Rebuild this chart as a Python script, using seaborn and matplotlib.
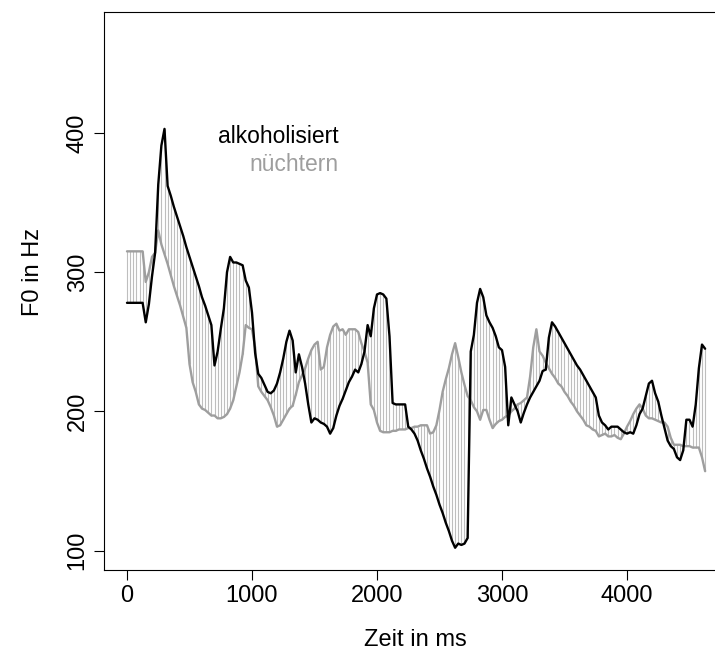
import numpy as np
import pandas as pd
import matplotlib
matplotlib.use("Agg")
import matplotlib.pyplot as plt
import seaborn as sns

# Zeitachse in ms (Abtastung alle 25 ms)
zeit_ms = np.arange(0, 4626, 25)

# F0-Verlauf (Hz), alkoholisiert
f0_alkoholisiert = [
    278, 278, 278, 278, 278, 278, 264, 277, 297, 314,
    363, 391, 403, 362, 355, 347, 340, 333, 326, 318,
    311, 304, 297, 290, 282, 276, 269, 262, 233, 243,
    259, 274, 300, 311, 307, 307, 306, 305, 294, 289,
    271, 242, 227, 224, 219, 214, 213, 215, 220, 228,
    238, 250, 258, 251, 228, 241, 232, 220, 205, 192,
    195, 194, 192, 191, 189, 184, 188, 197, 204, 209,
    215, 221, 225, 230, 228, 234, 243, 262, 254, 274,
    284, 285, 284, 281, 254, 206, 205, 205, 205, 205,
    189, 187, 184, 179, 172, 166, 159, 153, 146, 140,
    133, 127, 120, 114, 107, 102, 105, 104, 105, 109,
    243, 255, 278, 288, 282, 269, 264, 260, 254, 246,
    244, 232, 190, 210, 205, 200, 192, 199, 205, 210,
    214, 218, 222, 229, 230, 253, 264, 261, 257, 253,
    249, 245, 241, 237, 233, 230, 226, 222, 218, 214,
    210, 197, 192, 190, 187, 189, 189, 189, 187, 185,
    184, 185, 184, 190, 198, 202, 211, 220, 222, 213,
    207, 197, 188, 179, 175, 173, 167, 165, 172, 194,
    194, 189, 205, 231, 248, 245,
]

# F0-Verlauf (Hz), nüchtern
f0_nuechtern = [
    315, 315, 315, 315, 315, 315, 293, 300, 311, 314,
    330, 320, 313, 306, 298, 290, 283, 276, 268, 260,
    234, 221, 214, 205, 202, 201, 199, 197, 197, 195,
    195, 196, 198, 202, 208, 218, 228, 241, 262, 260,
    259, 246, 218, 214, 211, 208, 203, 197, 189, 190,
    194, 198, 202, 204, 212, 221, 226, 231, 238, 244,
    248, 250, 230, 232, 246, 255, 261, 263, 258, 259,
    255, 259, 259, 259, 257, 249, 243, 235, 205, 201,
    192, 186, 185, 185, 185, 186, 186, 187, 187, 187,
    188, 188, 189, 189, 190, 190, 190, 184, 185, 190,
    201, 214, 223, 231, 241, 249, 239, 228, 219, 211,
    208, 203, 200, 194, 201, 201, 194, 188, 191, 193,
    194, 196, 197, 200, 202, 205, 206, 208, 210, 225,
    246, 259, 243, 240, 235, 231, 227, 224, 220, 218,
    214, 211, 207, 204, 200, 197, 194, 190, 189, 187,
    186, 182, 183, 184, 182, 182, 183, 181, 180, 184,
    189, 193, 198, 202, 205, 202, 197, 195, 195, 194,
    193, 192, 192, 189, 181, 176, 176, 176, 175, 175,
    175, 174, 174, 174, 167, 157,
]

x_ticks = [0, 1000, 2000, 3000, 4000]
y_ticks = [100, 200, 300, 400]

df = pd.DataFrame({
    "zeit": zeit_ms,
    "alkoholisiert": f0_alkoholisiert,
    "nuechtern": f0_nuechtern,
})

sns.set_style("ticks")
plt.rcParams["font.family"] = ["Liberation Sans", "DejaVu Sans"]
plt.rcParams["axes.linewidth"] = 0.8
plt.rcParams["text.color"] = "black"
plt.rcParams["axes.labelcolor"] = "black"
plt.rcParams["xtick.color"] = "black"
plt.rcParams["ytick.color"] = "black"

fig = plt.figure(figsize=(7.15, 6.54), dpi=100)
ax = fig.add_axes([104 / 715, 84 / 654, 623 / 715, 558 / 654])

# Verbindungslinien zwischen beiden Konturen
ax.vlines(df["zeit"], df["alkoholisiert"], df["nuechtern"],
          colors="#bebebe", linewidth=0.8, zorder=1)

sns.lineplot(data=df, x="zeit", y="nuechtern", ax=ax, color="#9e9e9e",
             linewidth=1.7, estimator=None, sort=False, zorder=2)
sns.lineplot(data=df, x="zeit", y="alkoholisiert", ax=ax, color="black",
             linewidth=1.7, estimator=None, sort=False, zorder=3)

ax.set_xlim(-184, 4800)
ax.set_ylim(86, 487)

ax.set_xticks(x_ticks)
ax.set_xticklabels([str(v) for v in x_ticks], fontsize=17, color="black")
ax.set_yticks(y_ticks)
ax.set_yticklabels([str(v) for v in y_ticks], fontsize=17, color="black",
                   rotation=90, va="center")
ax.tick_params(axis="both", direction="out", length=7, width=0.8,
               color="black", labelcolor="black", pad=4)

for s in ax.spines.values():
    s.set_visible(True)
    s.set_color("black")

ax.set_xlabel("Zeit in ms", fontsize=17, color="black", va="center", ha="center")
ax.set_ylabel("F0 in Hz", fontsize=17, color="black", va="center", ha="center")
ax.xaxis.set_label_coords(0.5, -70 / 558)
ax.yaxis.set_label_coords(-71 / 623, 298 / 558)

ax.text(1690, 393, "alkoholisiert", color="black", fontsize=16.5,
        ha="right", va="baseline")
ax.text(1690, 372.5, "nüchtern", color="#9e9e9e", fontsize=16.5,
        ha="right", va="baseline")

fig.savefig("out.png", dpi=100)
